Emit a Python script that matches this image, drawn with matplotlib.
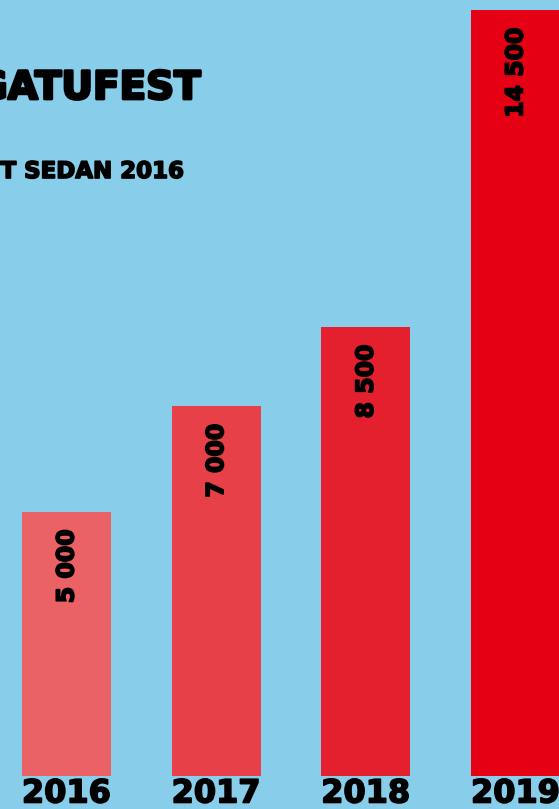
import numpy as np
import matplotlib
matplotlib.use("Agg")
import matplotlib.pyplot as plt
import matplotlib.patheffects as pe

years = ["2016", "2017", "2018", "2019"]
visitors = [5000, 7000, 8500, 14500]
value_labels = ["5 000", "7 000", "8 500", "14 500"]
title_text = "GATUFEST"
subtitle_text = "T SEDAN 2016"

bar_colors = ["#ea6265", "#e84049", "#e5202e", "#e60013"]
bg = "#88ceeb"
font = "DejaVu Sans"
heavy = [pe.withStroke(linewidth=1.2, foreground="black")]

W, H = 559, 809
fig = plt.figure(figsize=(W / 100, H / 100), dpi=100, facecolor=bg)
ax = fig.add_axes([0, 0, 1, 1])
ax.set_facecolor(bg)

x = np.arange(len(years))
step = 149.67  # px between bar centres
ax.bar(x, visitors, width=89 / step, color=bar_colors, zorder=2)

ax.set_xlim(-66.5 / step, (W - 66.5) / step)
px = 1000 / 52.8  # data units per pixel
ax.set_ylim(-(H - 776) * px, 776 * px)
ax.axis("off")

for xi, v, lab, yr in zip(x, visitors, value_labels, years):
    ax.annotate(lab, (xi, v), xytext=(0, -17), textcoords="offset pixels",
                rotation=90, ha="center", va="top", fontsize=17,
                fontweight="bold", family=font, color="black",
                path_effects=heavy)
    ax.annotate(yr, (xi, 0), xytext=(0, -18), textcoords="offset pixels",
                ha="center", va="center", fontsize=23,
                fontweight="bold", family=font, color="black",
                path_effects=heavy)

fig.text(201 / W, 1 - 99 / H, title_text, ha="right", va="baseline",
         fontsize=28, fontweight="bold", family=font, color="black",
         path_effects=[pe.withStroke(linewidth=2, foreground="black")])
fig.text(184 / W, 1 - 178 / H, subtitle_text, ha="right", va="baseline",
         fontsize=16.5, fontweight="bold", family=font, color="black",
         path_effects=heavy)

fig.savefig("out.png", dpi=100, facecolor=bg)
